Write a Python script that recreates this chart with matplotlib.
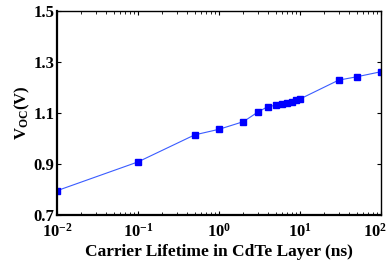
import matplotlib.pyplot as plt
import matplotlib.transforms as mtransforms
from matplotlib.ticker import LogLocator, NullFormatter

plt.rcParams["font.family"] = ["Liberation Serif", "DejaVu Serif"]
plt.rcParams["font.weight"] = "bold"
plt.rcParams["mathtext.fontset"] = "custom"
plt.rcParams["mathtext.rm"] = "Liberation Serif:bold"
plt.rcParams["mathtext.bf"] = "Liberation Serif:bold"
plt.rcParams["mathtext.it"] = "Liberation Serif:bold"

# Carrier lifetime (ns) and open-circuit voltage (V)
lifetime = [0.01, 0.1, 0.5, 1, 2, 3, 4, 5, 6, 7, 8, 9, 10, 30, 50, 100]
voc = [0.795, 0.908, 1.014, 1.036, 1.066, 1.103, 1.125, 1.130, 1.135,
       1.140, 1.145, 1.150, 1.155, 1.229, 1.242, 1.262]

xticks = [0.01, 0.1, 1, 10, 100]
xtick_labels = [r"$10^{-2}$", r"$10^{-1}$", r"$10^{0}$", r"$10^{1}$", r"$10^{2}$"]
yticks = [0.7, 0.9, 1.1, 1.3, 1.5]
ytick_labels = ["0.7", "0.9", "1.1", "1.3", "1.5"]

fig = plt.figure(figsize=(3.9, 2.7), dpi=100)
ax = fig.add_axes([0.146, 0.204, 0.831, 0.755])

ax.plot(lifetime, voc, color="#3a5cff", linewidth=0.8,
        marker="s", markersize=4.5, markerfacecolor="#0000ff",
        markeredgecolor="#0000ff")

ax.set_xscale("log")
ax.set_xlim(0.01, 100)
ax.set_ylim(0.7, 1.5)
ax.set_xticks(xticks)
ax.set_xticklabels(xtick_labels)
ax.xaxis.set_minor_locator(LogLocator(base=10, subs=range(2, 10)))
ax.xaxis.set_minor_formatter(NullFormatter())
ax.set_yticks(yticks)
ax.set_yticklabels(ytick_labels)

ax.tick_params(which="both", direction="in", top=True, right=True,
               labelsize=12)
ax.tick_params(which="major", length=3, width=0.8)
ax.tick_params(which="minor", length=2, width=0.6)
ax.tick_params(axis="x", pad=6)
ax.tick_params(axis="y", pad=2)

# nudge the last x label so it stays inside the figure
last = ax.get_xticklabels()[-1]
last.set_transform(last.get_transform() +
                   mtransforms.ScaledTranslation(-6 / 100, 0, fig.dpi_scale_trans))

for side in ["left", "bottom"]:
    ax.spines[side].set_linewidth(1.6)
for side in ["top", "right"]:
    ax.spines[side].set_linewidth(1.0)

ax.set_xlabel("Carrier Lifetime in CdTe Layer (ns)", fontsize=12.5,
              fontweight="bold", labelpad=2)
ax.set_ylabel(r"V$_{\mathrm{OC}}$(V)", fontsize=12, fontweight="bold",
              labelpad=1)

fig.savefig("out.png", dpi=100)
